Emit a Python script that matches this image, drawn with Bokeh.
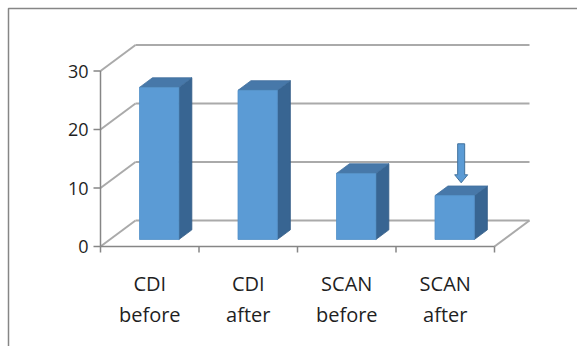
from bokeh.plotting import figure
from bokeh.models import Range1d
from bokeh.core.properties import value
from bokeh.embed import file_html
from bokeh.resources import INLINE

# ---- data -------------------------------------------------------------
categories = ["CDI\nbefore", "CDI\nafter", "SCAN\nbefore", "SCAN\nafter"]
scores = [26, 25.5, 11.3, 7.5]
y_ticks = [0, 10, 20, 30]
marked_bar = 3  # bar pointed at by the arrow

# ---- layout of the oblique 3-D projection ----------------------------
W, H = 577, 346
ORIGIN_X, ORIGIN_Y = 100, 246          # screen position of (category 0, value 0)
PX_PER_CAT, PX_PER_VAL = 98.5, 5.85
DEPTH_DX = 35 / PX_PER_CAT             # full wall depth, in category units
DEPTH_DY = 26 / PX_PER_VAL             # full wall depth, in value units
BAR_FRONT, BAR_BACK = 0.27, 0.64       # bar depth span (0 = front, 1 = back wall)
BAR_W = 0.40
Y_MAX = max(y_ticks)
N = len(categories)
TEXT_COLOR = "#1f1f1f"


def px_x(px):
    return px / PX_PER_CAT


def px_y(px):
    return px / PX_PER_VAL


def proj(cat, val, depth):
    return cat + depth * DEPTH_DX, val + depth * DEPTH_DY


p = figure(
    width=W, height=H,
    x_range=Range1d(-ORIGIN_X / PX_PER_CAT, (W - ORIGIN_X) / PX_PER_CAT),
    y_range=Range1d(-(H - ORIGIN_Y) / PX_PER_VAL, ORIGIN_Y / PX_PER_VAL),
    output_backend="svg", toolbar_location=None,
    x_axis_type=None, y_axis_type=None, min_border=0,
)
p.outline_line_color = None
p.background_fill_color = "white"
p.border_fill_color = "white"

# chart-area border (left and top edges)
bx = -px_x(ORIGIN_X - 8)
by = px_y(ORIGIN_Y - 8)
p.line([bx, bx, N + 5], [-40, by, by], line_color="#868686", line_width=1.5)

# gridlines: back wall and left side wall
grid_xs, grid_ys = [], []
for v in y_ticks:
    x0, y0 = proj(0, v, 1)
    x1, y1 = proj(N, v, 1)
    grid_xs.append([x0, x1]); grid_ys.append([y0, y1])
    x0, y0 = proj(0, v, 0)
    x1, y1 = proj(0, v, 1)
    grid_xs.append([x0, x1]); grid_ys.append([y0, y1])
# right edge of the floor
x0, y0 = proj(N, 0, 0)
x1, y1 = proj(N, 0, 1)
grid_xs.append([x0, x1]); grid_ys.append([y0, y1])
p.multi_line(grid_xs, grid_ys, line_color="#aaaaaa", line_width=2)

# value axis with outward ticks
axis_color = "#868686"
p.line([0, 0], [0, Y_MAX], line_color=axis_color, line_width=1.5)
p.segment(x0=[-px_x(7)] * len(y_ticks), y0=y_ticks, x1=[0] * len(y_ticks), y1=y_ticks,
          line_color=axis_color, line_width=1.5)
p.text(x=[-px_x(12)] * len(y_ticks), y=y_ticks, text=[str(t) for t in y_ticks],
       text_align="right", text_baseline="middle", text_font=value("Open Sans"),
       text_font_size="18px", text_color=TEXT_COLOR)

# category axis
p.line([0, N], [0, 0], line_color=axis_color, line_width=1.5)
p.segment(x0=list(range(N + 1)), y0=[0] * (N + 1), x1=list(range(N + 1)),
          y1=[-px_y(6)] * (N + 1), line_color=axis_color, line_width=1.5)
top_lines = [c.split("\n")[0] for c in categories]
bottom_lines = [c.split("\n")[1] for c in categories]
centers = [i + 0.5 for i in range(N)]
for lines, off in ((top_lines, 37), (bottom_lines, 68)):
    p.text(x=centers, y=[-px_y(off)] * N, text=lines, text_align="center",
           text_baseline="middle", text_font=value("Open Sans"),
           text_font_size="20px", text_color=TEXT_COLOR)

# 3-D columns: side, top and front faces
side_xs, side_ys, top_xs, top_ys, front_xs, front_ys = [], [], [], [], [], []
for i, v in enumerate(scores):
    xl = i + 0.5 - BAR_W / 2
    xr = i + 0.5 + BAR_W / 2
    pts = [proj(xr, 0, BAR_FRONT), proj(xr, 0, BAR_BACK), proj(xr, v, BAR_BACK), proj(xr, v, BAR_FRONT)]
    side_xs.append([q[0] for q in pts]); side_ys.append([q[1] for q in pts])
    pts = [proj(xl, v, BAR_FRONT), proj(xr, v, BAR_FRONT), proj(xr, v, BAR_BACK), proj(xl, v, BAR_BACK)]
    top_xs.append([q[0] for q in pts]); top_ys.append([q[1] for q in pts])
    pts = [proj(xl, 0, BAR_FRONT), proj(xr, 0, BAR_FRONT), proj(xr, v, BAR_FRONT), proj(xl, v, BAR_FRONT)]
    front_xs.append([q[0] for q in pts]); front_ys.append([q[1] for q in pts])

p.patches(side_xs, side_ys, fill_color="#386592", line_color="#335d86", line_width=0.8)
p.patches(top_xs, top_ys, fill_color="#4778a9", line_color="#41709e", line_width=0.8)
p.patches(front_xs, front_ys, fill_color="#5b9bd5", line_color="#5390c8", line_width=0.8)

# down arrow over the marked bar
mid = (BAR_FRONT + BAR_BACK) / 2
ax, ay = proj(marked_bar + 0.5, scores[marked_bar], mid)
tip = ay + px_y(8)
head_top = tip + px_y(8)
shaft_top = tip + px_y(39)
sw, hw = px_x(3.5), px_x(6.5)
p.patch([ax - sw, ax + sw, ax + sw, ax + hw, ax, ax - hw, ax - sw],
        [shaft_top, shaft_top, head_top, head_top, tip, head_top, head_top],
        fill_color="#5b9bd5", line_color="#41719c", line_width=1)

open("out.html", "w").write(file_html(p, INLINE))
